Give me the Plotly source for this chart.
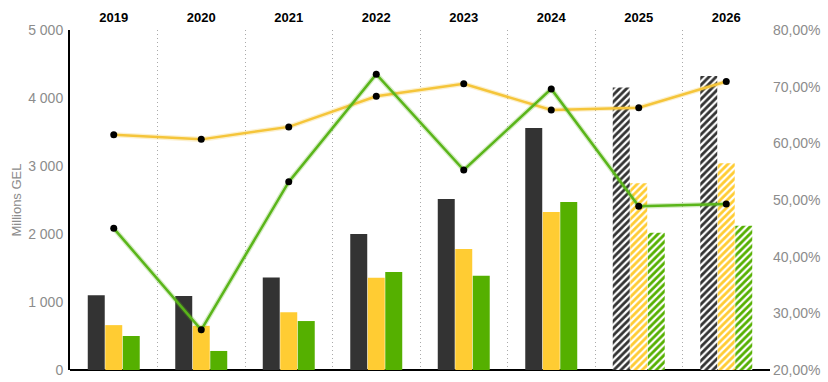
import plotly.graph_objects as go

years = ["2019", "2020", "2021", "2022", "2023", "2024", "2025", "2026"]
dark_vals = [1100, 1090, 1360, 2000, 2515, 3560, 4155, 4325]
yellow_vals = [660, 650, 850, 1355, 1780, 2325, 2745, 3040]
green_vals = [500, 280, 720, 1440, 1385, 2470, 2020, 2120]
yellow_pct = [0.615, 0.607, 0.629, 0.683, 0.705, 0.659, 0.663, 0.709]
green_pct = [0.450, 0.271, 0.532, 0.722, 0.553, 0.696, 0.489, 0.493]
forecast = [False, False, False, False, False, False, True, True]

DARK = "#333333"
YELLOW = "#ffcc33"
GREEN = "#55b000"
shapes = ["/" if f else "" for f in forecast]

fig = go.Figure()
for vals, col in [(dark_vals, DARK), (yellow_vals, YELLOW), (green_vals, GREEN)]:
    fig.add_trace(go.Bar(
        x=years, y=vals, yaxis="y",
        marker=dict(color=col, line=dict(width=0),
                    pattern=dict(shape=shapes, fillmode="replace", fgcolor=col,
                                 bgcolor="white", size=5, solidity=0.55)),
        showlegend=False, hoverinfo="skip"))

for vals, col in [(yellow_pct, "#f5c53a"), (green_pct, "#5ab51a")]:
    fig.add_trace(go.Scatter(x=years, y=vals, yaxis="y2", mode="lines",
                             line=dict(color=col, width=5), opacity=0.25,
                             showlegend=False, hoverinfo="skip"))
    fig.add_trace(go.Scatter(x=years, y=vals, yaxis="y2", mode="lines+markers",
                             line=dict(color=col, width=2.5),
                             marker=dict(color="black", size=7),
                             showlegend=False, hoverinfo="skip"))

tickfont = dict(family="Liberation Sans, Arial", size=14, color="#8c8c8c")
fig.update_layout(
    width=828, height=382,
    margin=dict(l=70, r=58, t=30, b=12, autoexpand=False),
    plot_bgcolor="white", paper_bgcolor="white",
    separators=", ",
    barmode="group", bargap=0.4, bargroupgap=0.03,
    xaxis=dict(side="top", type="category", tickson="boundaries", automargin=False,
               showgrid=True, gridcolor="#aaaaaa", griddash="1px,3px", gridwidth=1,
               ticks="", showline=False, zeroline=False,
               tickfont=dict(family="Liberation Sans, Arial", size=13, color="black"),
               tickprefix="<b>", ticksuffix="</b>", ticklabelstandoff=4),
    yaxis=dict(range=[0, 5000], dtick=1000, tickformat=",d", showgrid=False,
               automargin=False,
               showline=True, linecolor="black", linewidth=2,
               zeroline=True, zerolinecolor="black", zerolinewidth=2,
               ticks="", tickfont=tickfont, ticklabelstandoff=2,
               title=dict(text="Millions GEL", font=dict(family="Liberation Sans, Arial",
                                                         size=13, color="#8c8c8c"),
                          standoff=4)),
    yaxis2=dict(range=[0.2, 0.8], dtick=0.1, tickformat=".2%", overlaying="y",
                side="right", showgrid=False, showline=False, zeroline=False,
                automargin=False, ticks="", tickfont=tickfont, ticklabelstandoff=2),
)
fig.write_html("out.html", config={"displayModeBar": False},
               post_script="document.body.style.margin='0';document.body.style.overflow='hidden';")
